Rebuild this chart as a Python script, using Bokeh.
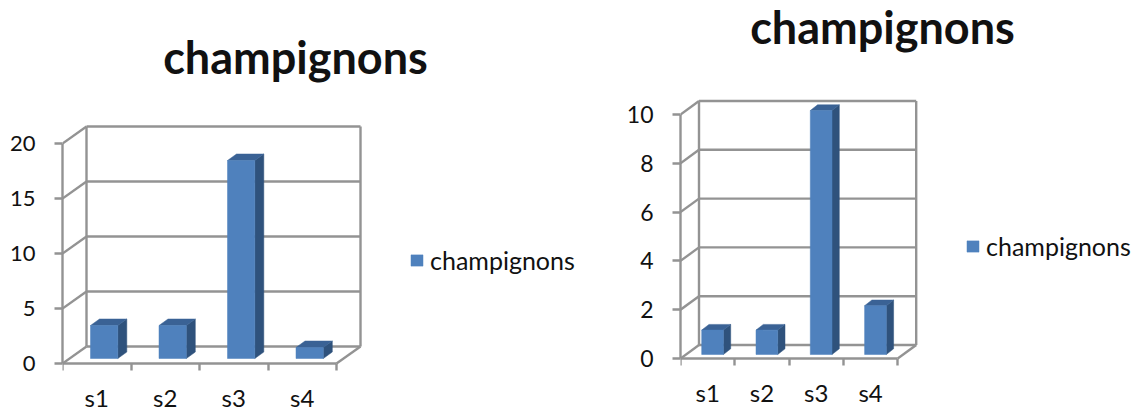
from bokeh.plotting import figure
from bokeh.layouts import row
from bokeh.models import FixedTicker, Label, Legend, LegendItem, Range1d
from bokeh.embed import file_html
from bokeh.resources import INLINE

categories = ["s1", "s2", "s3", "s4"]
series_name = "champignons"
left_values = [3, 3, 18, 1]
right_values = [1, 1, 10, 2]
left_ticks = [0, 5, 10, 15, 20]
right_ticks = [0, 2, 4, 6, 8, 10]

FRONT, SIDE, TOP, GRID, INK = "#4F81BD", "#2F527C", "#3A6295", "#939393", "#111111"
FONT = "Lato"
FIG_H = 411
LINE_W = 2.4


def panel(values, ticks, fig_left, fig_w, x0, y0, cat_px, unit_px, wall, bar, title_xy,
          legend_xy, y_size, x_size, x_standoff):
    """x0,y0: page pixel of the axis origin; wall/bar depth offsets in pixels."""
    left_px = x0 - fig_left
    p = figure(width=fig_w, height=FIG_H, output_backend="svg", toolbar_location=None,
               min_border_left=left_px, min_border_right=0, min_border_top=0,
               min_border_bottom=0, background_fill_color="white",
               border_fill_color="white", outline_line_color=None)
    p.x_range = Range1d(0, (fig_w - left_px) / cat_px)
    p.y_range = Range1d(-(FIG_H - y0) / unit_px, y0 / unit_px)
    p.grid.visible = False

    n = len(categories)
    ymax = ticks[-1]
    wx, wy = wall[0] / cat_px, wall[1] / unit_px
    # back wall and floor
    xs0 = [wx] * len(ticks) + [0] * len(ticks) + [wx, n + wx, n]
    ys0 = [t + wy for t in ticks] + list(ticks) + [wy, wy, 0]
    xs1 = [n + wx] * len(ticks) + [wx] * len(ticks) + [wx, n + wx, n + wx]
    ys1 = [t + wy for t in ticks] + [t + wy for t in ticks] + [ymax + wy, ymax + wy, wy]
    p.segment(xs0, ys0, xs1, ys1, line_color=GRID, line_width=LINE_W)

    # bars
    w = bar[2] / cat_px
    ox = bar[3] / cat_px
    by = bar[4] / unit_px
    dx, dy = bar[0] / cat_px, bar[1] / unit_px
    fx, fy, sx, sy, tx, ty = [], [], [], [], [], []
    for i, v in enumerate(values):
        a = i + 0.5 + ox - w / 2
        b = a + w
        top = by + v
        fx.append([a, b, b, a])
        fy.append([by, by, top, top])
        sx.append([b, b + dx, b + dx, b])
        sy.append([by, by + dy, top + dy, top])
        tx.append([a, b, b + dx, a + dx])
        ty.append([top, top, top + dy, top + dy])
    p.patches(sx, sy, fill_color=SIDE, line_color=SIDE, line_width=0.5)
    p.patches(tx, ty, fill_color=TOP, line_color=TOP, line_width=0.5)
    front = p.patches(fx, fy, fill_color=FRONT, line_color=FRONT, line_width=0.5)

    # axes
    ya = p.yaxis[0]
    ya.ticker = FixedTicker(ticks=ticks)
    ya.bounds = (0, ymax)
    ya.axis_line_color = GRID
    ya.axis_line_width = LINE_W
    ya.major_tick_line_color = GRID
    ya.major_tick_line_width = LINE_W
    ya.major_tick_in = 0
    ya.major_tick_out = 8
    ya.minor_tick_line_color = None
    ya.major_label_standoff = 19
    ya.major_label_text_font = FONT
    ya.major_label_text_font_size = y_size
    ya.major_label_text_color = INK

    xa = p.xaxis[0]
    xa.fixed_location = 0
    mids = [i + 0.5 for i in range(n)]
    xa.ticker = FixedTicker(ticks=mids, minor_ticks=list(range(n + 1)))
    xa.major_label_overrides = {m: c for m, c in zip(mids, categories)}
    xa.bounds = (0, n)
    xa.axis_line_color = GRID
    xa.axis_line_width = LINE_W
    xa.major_tick_line_color = None
    xa.major_tick_in = 0
    xa.major_tick_out = 7
    xa.minor_tick_line_color = GRID
    xa.minor_tick_line_width = LINE_W
    xa.minor_tick_in = 0
    xa.minor_tick_out = 7
    xa.major_label_standoff = x_standoff
    xa.major_label_text_font = FONT
    xa.major_label_text_font_size = x_size
    xa.major_label_text_color = INK

    # title (label coordinates are relative to the frame)
    p.add_layout(Label(x=title_xy[0] - x0, y=FIG_H - title_xy[1],
                       x_units="screen", y_units="screen", text=series_name,
                       text_align="center", text_baseline="middle", text_font=FONT,
                       text_font_style="bold", text_font_size="45px", text_color=INK))

    # legend
    leg = Legend(items=[LegendItem(label=series_name, renderers=[front])],
                 location=(legend_xy[0] - x0, FIG_H - legend_xy[1]),
                 orientation="vertical", padding=0, margin=0, spacing=0,
                 glyph_width=15, glyph_height=14, label_standoff=6,
                 border_line_color=None, background_fill_alpha=0,
                 label_text_font=FONT, label_text_font_size="25px", label_text_color=INK)
    p.add_layout(leg)
    return p


a = panel(left_values, left_ticks, 0, 620, 62, 363, 68.5, 11.0,
          wall=(24, 17), bar=(9, 6.5, 27.3, 7.4, 5),
          title_xy=(295, 56), legend_xy=(409, 275), y_size="22px", x_size="24px", x_standoff=12)
b = panel(right_values, right_ticks, 620, 517, 680, 358, 54.3, 24.4,
          wall=(18.5, 13.5), bar=(7.3, 5.7, 21.7, 4.9, 4),
          title_xy=(882, 26), legend_xy=(965, 261), y_size="23px", x_size="24px", x_standoff=12)

layout = row(a, b, spacing=0)
open("out.html", "w").write(file_html(layout, INLINE))
